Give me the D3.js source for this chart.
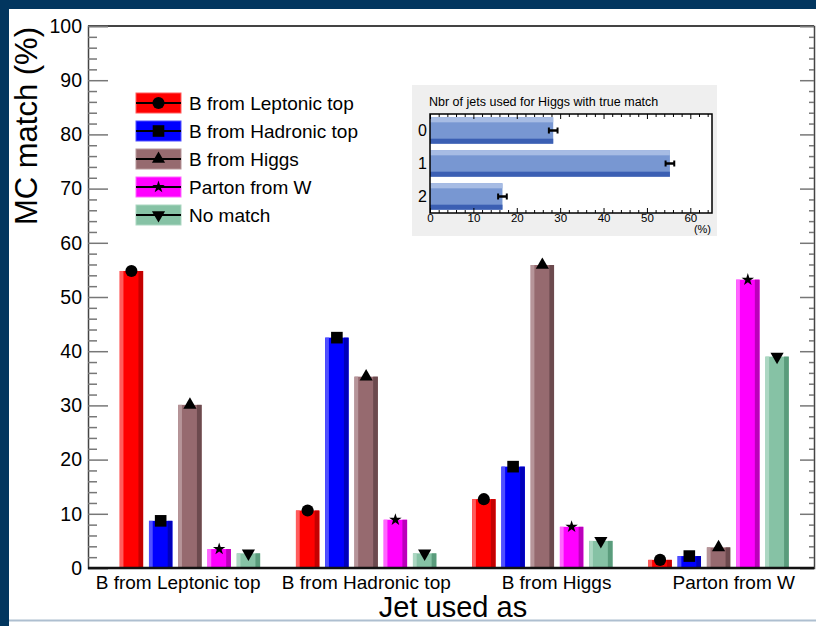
<!DOCTYPE html>
<html>
<head>
<meta charset="utf-8">
<script src="https://cdn.jsdelivr.net/npm/d3@7"></script>
<style>
  html, body { margin: 0; padding: 0; background: #02365f; }
  svg { display: block; }
  text { font-family: "Liberation Sans", Arial, Helvetica, sans-serif; fill: #000; }
</style>
</head>
<body>
<svg id="chart" width="816" height="626"></svg>
<script>
// ---- data ----
const categories = ["B from Leptonic top", "B from Hadronic top", "B from Higgs", "Parton from W"];
const seriesNames = ["B from Leptonic top", "B from Hadronic top", "B from Higgs", "Parton from W", "No match"];
const leptonicTop = [54.8, 10.6, 12.7, 1.5];
const hadronicTop = [8.7, 42.5, 18.7, 2.2];
const fromHiggs   = [30.1, 35.3, 55.9, 3.8];
const partonFromW = [3.5, 8.9, 7.6, 53.2];
const noMatch     = [2.7, 2.7, 5.0, 39.0];
const yTicks = [0, 10, 20, 30, 40, 50, 60, 70, 80, 90, 100];

const insetCategories = ["0", "1", "2"];
const insetValues = [28.4, 55.3, 16.7];
const insetErrors = [1.0, 1.0, 1.0];
const insetTicks = [0, 10, 20, 30, 40, 50, 60];

// ---- styles ----
const seriesValues = [leptonicTop, hadronicTop, fromHiggs, partonFromW, noMatch];
const fills  = ["#ff0000", "#0000ff", "#966a6f", "#ff00ff", "#86c2a5"];
const lights = ["#ff5c5c", "#5050ff", "#b69599", "#ff66ff", "#acd7c2"];
const darks  = ["#c40000", "#0000bb", "#6c4a4e", "#bb00bb", "#5a9c7c"];
const symbols = [
  { type: d3.symbolCircle, size: 115, rot: 0 },
  { type: d3.symbolSquare, size: 135, rot: 0 },
  { type: d3.symbolTriangle, size: 75, rot: 0 },
  { type: d3.symbolStar, size: 48, rot: 0 },
  { type: d3.symbolTriangle, size: 75, rot: 180 }
];

const svg = d3.select("#chart");

// page frame
svg.append("rect").attr("x", 0).attr("y", 0).attr("width", 816).attr("height", 626).attr("fill", "#02365f");
svg.append("rect").attr("x", 9).attr("y", 9).attr("width", 807).attr("height", 617).attr("fill", "#ffffff");
svg.append("line").attr("x1", 9).attr("x2", 816).attr("y1", 620.5).attr("y2", 620.5)
  .attr("stroke", "#aebfd0").attr("stroke-width", 2);

// ---- main plot scales ----
const plot = { left: 88, right: 814, top: 26, bottom: 568 };
const y = d3.scaleLinear().domain([0, 100]).range([plot.bottom, plot.top]);
// group axis: each category occupies one unit
const xg = d3.scaleLinear().domain([0, 4.12]).range([plot.left, plot.right]);
const groupUnit = xg(1) - xg(0);
const xb = d3.scaleBand().domain(seriesNames)
  .range([0.18 * groupUnit, 0.18 * groupUnit + 0.166 * groupUnit * 4.8])
  .paddingInner(0.2).paddingOuter(0);

// frame top line
svg.append("line").attr("x1", plot.left).attr("x2", plot.right).attr("y1", plot.top).attr("y2", plot.top)
  .attr("stroke", "#444").attr("stroke-width", 2);

// left axis: major + minor ticks pointing inward
const minorTicks = d3.range(0, 101, 2).filter(v => v % 10 !== 0);
const leftMajor = svg.append("g").attr("transform", `translate(${plot.left},0)`)
  .call(d3.axisLeft(y).tickValues(yTicks).tickSize(-20).tickPadding(6).tickFormat(d3.format("d")));
leftMajor.select(".domain").attr("stroke", "#444").attr("stroke-width", 1.5);
leftMajor.selectAll(".tick line").attr("stroke", "#777").attr("stroke-width", 1.5);
leftMajor.selectAll(".tick text").attr("font-size", 19.5).attr("font-family", "Liberation Sans, Arial, sans-serif");
const leftMinor = svg.append("g").attr("transform", `translate(${plot.left},0)`)
  .call(d3.axisLeft(y).tickValues(minorTicks).tickSize(-9).tickFormat(""));
leftMinor.select(".domain").remove();
leftMinor.selectAll(".tick line").attr("stroke", "#777").attr("stroke-width", 1.5);

// right axis
const rightMajor = svg.append("g").attr("transform", `translate(${plot.right},0)`)
  .call(d3.axisRight(y).tickValues(yTicks).tickSize(-14).tickFormat(""));
rightMajor.select(".domain").attr("stroke", "#444").attr("stroke-width", 1.5);
rightMajor.selectAll(".tick line").attr("stroke", "#777").attr("stroke-width", 1.5);
const rightMinor = svg.append("g").attr("transform", `translate(${plot.right},0)`)
  .call(d3.axisRight(y).tickValues(minorTicks).tickSize(-5).tickFormat(""));
rightMinor.select(".domain").remove();
rightMinor.selectAll(".tick line").attr("stroke", "#777").attr("stroke-width", 1.5);

// ---- bars with bevelled edges ----
const bars = svg.append("g");
seriesValues.forEach((vals, s) => {
  vals.forEach((v, g) => {
    const x0 = xg(g) + xb(seriesNames[s]);
    const w = xb.bandwidth();
    const top = y(v), h = y(0) - y(v);
    bars.append("rect").attr("x", x0).attr("y", top).attr("width", w).attr("height", h).attr("fill", fills[s]);
    bars.append("rect").attr("x", x0).attr("y", top).attr("width", w * 0.16).attr("height", h).attr("fill", lights[s]);
    bars.append("rect").attr("x", x0 + w * 0.8).attr("y", top).attr("width", w * 0.2).attr("height", h).attr("fill", darks[s]);
  });
});

// x axis line
svg.append("line").attr("x1", plot.left).attr("x2", plot.right).attr("y1", plot.bottom).attr("y2", plot.bottom)
  .attr("stroke", "#111").attr("stroke-width", 2.5);

// markers at bar tops
const markers = svg.append("g");
seriesValues.forEach((vals, s) => {
  const sym = d3.symbol().type(symbols[s].type).size(symbols[s].size);
  vals.forEach((v, g) => {
    const cx = xg(g) + xb(seriesNames[s]) + xb.bandwidth() / 2;
    markers.append("path").attr("d", sym())
      .attr("transform", `translate(${cx},${y(v)}) rotate(${symbols[s].rot})`)
      .attr("fill", "#000");
  });
});

// category labels
const labelShift = [2, 14, 28, 29];
svg.append("g").selectAll("text").data(categories).join("text")
  .attr("x", (d, i) => xg(i + 0.5) + labelShift[i])
  .attr("y", 589)
  .attr("text-anchor", "middle")
  .attr("font-size", 19)
  .text(d => d);

// axis titles
svg.append("text")
  .attr("transform", "translate(37,27) rotate(-90)")
  .attr("text-anchor", "end")
  .attr("font-size", 31)
  .text("MC match (%)");
svg.append("text")
  .attr("x", 453).attr("y", 617)
  .attr("text-anchor", "middle")
  .attr("font-size", 29)
  .text("Jet used as");

// ---- legend ----
const legend = svg.append("g");
seriesNames.forEach((name, i) => {
  const cy = 103 + i * 28;
  legend.append("rect").attr("x", 136).attr("y", cy - 10).attr("width", 45).attr("height", 20)
    .attr("fill", fills[i]).attr("stroke", lights[i]).attr("stroke-width", 1);
  legend.append("line").attr("x1", 136).attr("x2", 181).attr("y1", cy).attr("y2", cy)
    .attr("stroke", "#000").attr("stroke-width", 2);
  const sym = d3.symbol().type(symbols[i].type).size(symbols[i].size);
  legend.append("path").attr("d", sym())
    .attr("transform", `translate(158.5,${cy}) rotate(${symbols[i].rot})`).attr("fill", "#000");
  legend.append("text").attr("x", 189).attr("y", cy).attr("dy", "0.36em")
    .attr("font-size", 19).text(name);
});

// ---- inset: number of jets used for Higgs ----
const inset = svg.append("g");
inset.append("rect").attr("x", 412).attr("y", 85).attr("width", 305).attr("height", 151).attr("fill", "#efefef");
inset.append("text").attr("x", 429).attr("y", 106).attr("font-size", 12.5)
  .text("Nbr of jets used for Higgs with true match");
const ib = { left: 430, right: 712, top: 114, bottom: 213 };
inset.append("rect").attr("x", ib.left).attr("y", ib.top).attr("width", ib.right - ib.left)
  .attr("height", ib.bottom - ib.top).attr("fill", "#fff");

const ix = d3.scaleLinear().domain([0, 65]).range([ib.left, ib.right]);
const iy = d3.scaleBand().domain(insetCategories).range([ib.top, ib.bottom]).paddingInner(0.2).paddingOuter(0.1);

insetValues.forEach((v, i) => {
  const by = iy(insetCategories[i]), bh = iy.bandwidth();
  const bw = ix(v) - ix(0);
  inset.append("rect").attr("x", ix(0)).attr("y", by).attr("width", bw).attr("height", bh).attr("fill", "#7897d2");
  inset.append("rect").attr("x", ix(0)).attr("y", by).attr("width", bw).attr("height", bh * 0.19).attr("fill", "#a7bce4");
  inset.append("rect").attr("x", ix(0)).attr("y", by + bh * 0.81).attr("width", bw).attr("height", bh * 0.19).attr("fill", "#3b5fb3");
  const cy = by + bh / 2;
  const e0 = ix(v - insetErrors[i]), e1 = ix(v + insetErrors[i]);
  inset.append("line").attr("x1", e0).attr("x2", e1).attr("y1", cy).attr("y2", cy).attr("stroke", "#000").attr("stroke-width", 2.5);
  [e0, e1].forEach(ex => inset.append("line").attr("x1", ex).attr("x2", ex).attr("y1", cy - 3).attr("y2", cy + 3)
    .attr("stroke", "#000").attr("stroke-width", 2));
});

// inset frame and axes
inset.append("rect").attr("x", ib.left).attr("y", ib.top).attr("width", ib.right - ib.left)
  .attr("height", ib.bottom - ib.top).attr("fill", "none").attr("stroke", "#000").attr("stroke-width", 1.5);
const insetMinor = d3.range(0, 65, 2).filter(v => v % 10 !== 0);
const ixAxis = inset.append("g").attr("transform", `translate(0,${ib.bottom})`)
  .call(d3.axisBottom(ix).tickValues(insetTicks).tickSize(-5).tickPadding(1));
ixAxis.select(".domain").remove();
ixAxis.selectAll(".tick line").attr("stroke", "#000");
ixAxis.selectAll(".tick text").attr("font-size", 11.5).attr("font-family", "Liberation Sans, Arial, sans-serif");
const ixMinor = inset.append("g").attr("transform", `translate(0,${ib.bottom})`)
  .call(d3.axisBottom(ix).tickValues(insetMinor).tickSize(-3).tickFormat(""));
ixMinor.select(".domain").remove();
ixMinor.selectAll(".tick line").attr("stroke", "#000");
const ixTop = inset.append("g").attr("transform", `translate(0,${ib.top})`)
  .call(d3.axisTop(ix).tickValues(insetTicks).tickSize(-5).tickFormat(""));
ixTop.select(".domain").remove();
ixTop.selectAll(".tick line").attr("stroke", "#000");
const ixTopMinor = inset.append("g").attr("transform", `translate(0,${ib.top})`)
  .call(d3.axisTop(ix).tickValues(insetMinor).tickSize(-3).tickFormat(""));
ixTopMinor.select(".domain").remove();
ixTopMinor.selectAll(".tick line").attr("stroke", "#000");

inset.append("text").attr("x", 711).attr("y", 233).attr("text-anchor", "end").attr("font-size", 11).text("(%)");

inset.append("g").selectAll("text").data(insetCategories).join("text")
  .attr("x", 427)
  .attr("y", d => iy(d) + iy.bandwidth() / 2)
  .attr("dy", "0.36em")
  .attr("text-anchor", "end")
  .attr("font-size", 16)
  .text(d => d);
</script>
</body>
</html>
